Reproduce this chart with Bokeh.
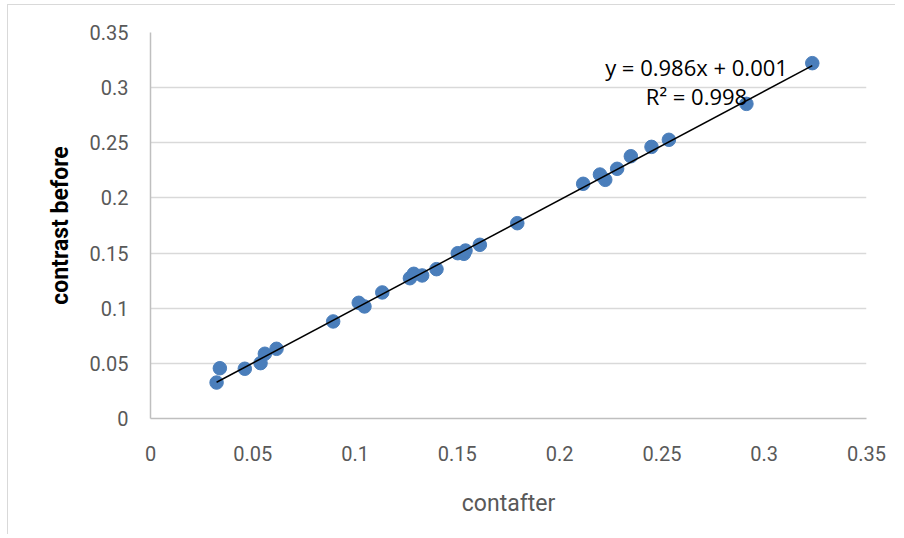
from bokeh.plotting import figure
from bokeh.models import Range1d, FixedTicker, Label
from bokeh.embed import file_html
from bokeh.resources import INLINE

# ---- data ----
contafter = [0.0323, 0.0339, 0.0461, 0.0538, 0.0559, 0.0616, 0.0893, 0.1018,
             0.1046, 0.1133, 0.1268, 0.1287, 0.1328, 0.1398, 0.1502, 0.1532,
             0.1540, 0.1610, 0.1793, 0.2115, 0.2197, 0.2223, 0.2281, 0.2348,
             0.2449, 0.2534, 0.2913, 0.3235]
contrast_before = [0.0326, 0.0456, 0.0451, 0.0502, 0.0587, 0.0632, 0.0880, 0.1049,
                   0.1016, 0.1143, 0.1272, 0.1312, 0.1297, 0.1354, 0.1499, 0.1493,
                   0.1523, 0.1575, 0.1771, 0.2128, 0.2212, 0.2164, 0.2264, 0.2378,
                   0.2463, 0.2527, 0.2853, 0.3222]
trend_slope = 0.986
trend_intercept = 0.001
equation_text = "y = 0.986x + 0.001"
r2_text = "R\u00b2 = 0.998"
tick_values = [0, 0.05, 0.1, 0.15, 0.2, 0.25, 0.3, 0.35]
tick_labels = ["0", "0.05", "0.1", "0.15", "0.2", "0.25", "0.3", "0.35"]
x_title = "contafter"
y_title = "contrast before"

# ---- figure ----
p = figure(width=888, height=530, output_backend="svg", toolbar_location=None,
           x_range=Range1d(0, 0.35), y_range=Range1d(0, 0.35),
           min_border_left=142, min_border_right=30,
           min_border_top=27, min_border_bottom=117)
p.outline_line_color = None
p.background_fill_color = "white"
p.border_fill_color = "white"
p.styles = {"margin-left": "7px", "margin-top": "4px",
            "border-left": "1px solid #d9d9d9", "border-top": "1px solid #d9d9d9"}

overrides = {v: l for v, l in zip(tick_values, tick_labels)}
for ax in (p.xaxis[0], p.yaxis[0]):
    ax.ticker = FixedTicker(ticks=tick_values)
    ax.major_label_overrides = overrides
    ax.major_tick_out = 0
    ax.major_tick_in = 0
    ax.minor_tick_out = 0
    ax.minor_tick_in = 0
    ax.axis_line_color = "#bfbfbf"
    ax.axis_line_width = 1.5
    ax.major_label_text_font = "Roboto"
    ax.major_label_text_font_size = "20px"
    ax.major_label_text_color = "#595959"

p.xaxis.major_label_standoff = 27
p.yaxis.major_label_standoff = 22
p.xaxis.axis_label = x_title
p.xaxis.axis_label_text_font = "Roboto"
p.xaxis.axis_label_text_font_size = "23px"
p.xaxis.axis_label_text_font_style = "normal"
p.xaxis.axis_label_text_color = "#595959"
p.xaxis.axis_label_standoff = 26

p.yaxis.axis_label = y_title
p.yaxis.axis_label_text_font = "Roboto"
p.yaxis.axis_label_text_font_size = "23px"
p.yaxis.axis_label_text_font_style = "bold"
p.yaxis.axis_label_text_color = "#000000"
p.yaxis.axis_label_standoff = 13

p.xgrid.grid_line_color = None
p.ygrid.grid_line_color = "#d9d9d9"
p.ygrid.grid_line_width = 1.5
p.ygrid.ticker = FixedTicker(ticks=tick_values)

# points
p.scatter(contafter, contrast_before, size=13.5, fill_color="#4a7ebb",
          line_color="#4a7ebb")

# trendline
x0, x1 = min(contafter), max(contafter)
p.line([x0, x1], [trend_slope * x0 + trend_intercept, trend_slope * x1 + trend_intercept],
       line_color="black", line_width=1.5)

p.add_layout(Label(x=0.2669, y=0.3183, text=equation_text, text_font="Open Sans",
                   text_font_size="22px", text_color="#000000", text_align="center",
                   text_baseline="alphabetic"))
p.add_layout(Label(x=0.2669, y=0.2920, text=r2_text, text_font="Open Sans",
                   text_font_size="22px", text_color="#000000", text_align="center",
                   text_baseline="alphabetic"))

open("out.html", "w").write(file_html(p, INLINE))
